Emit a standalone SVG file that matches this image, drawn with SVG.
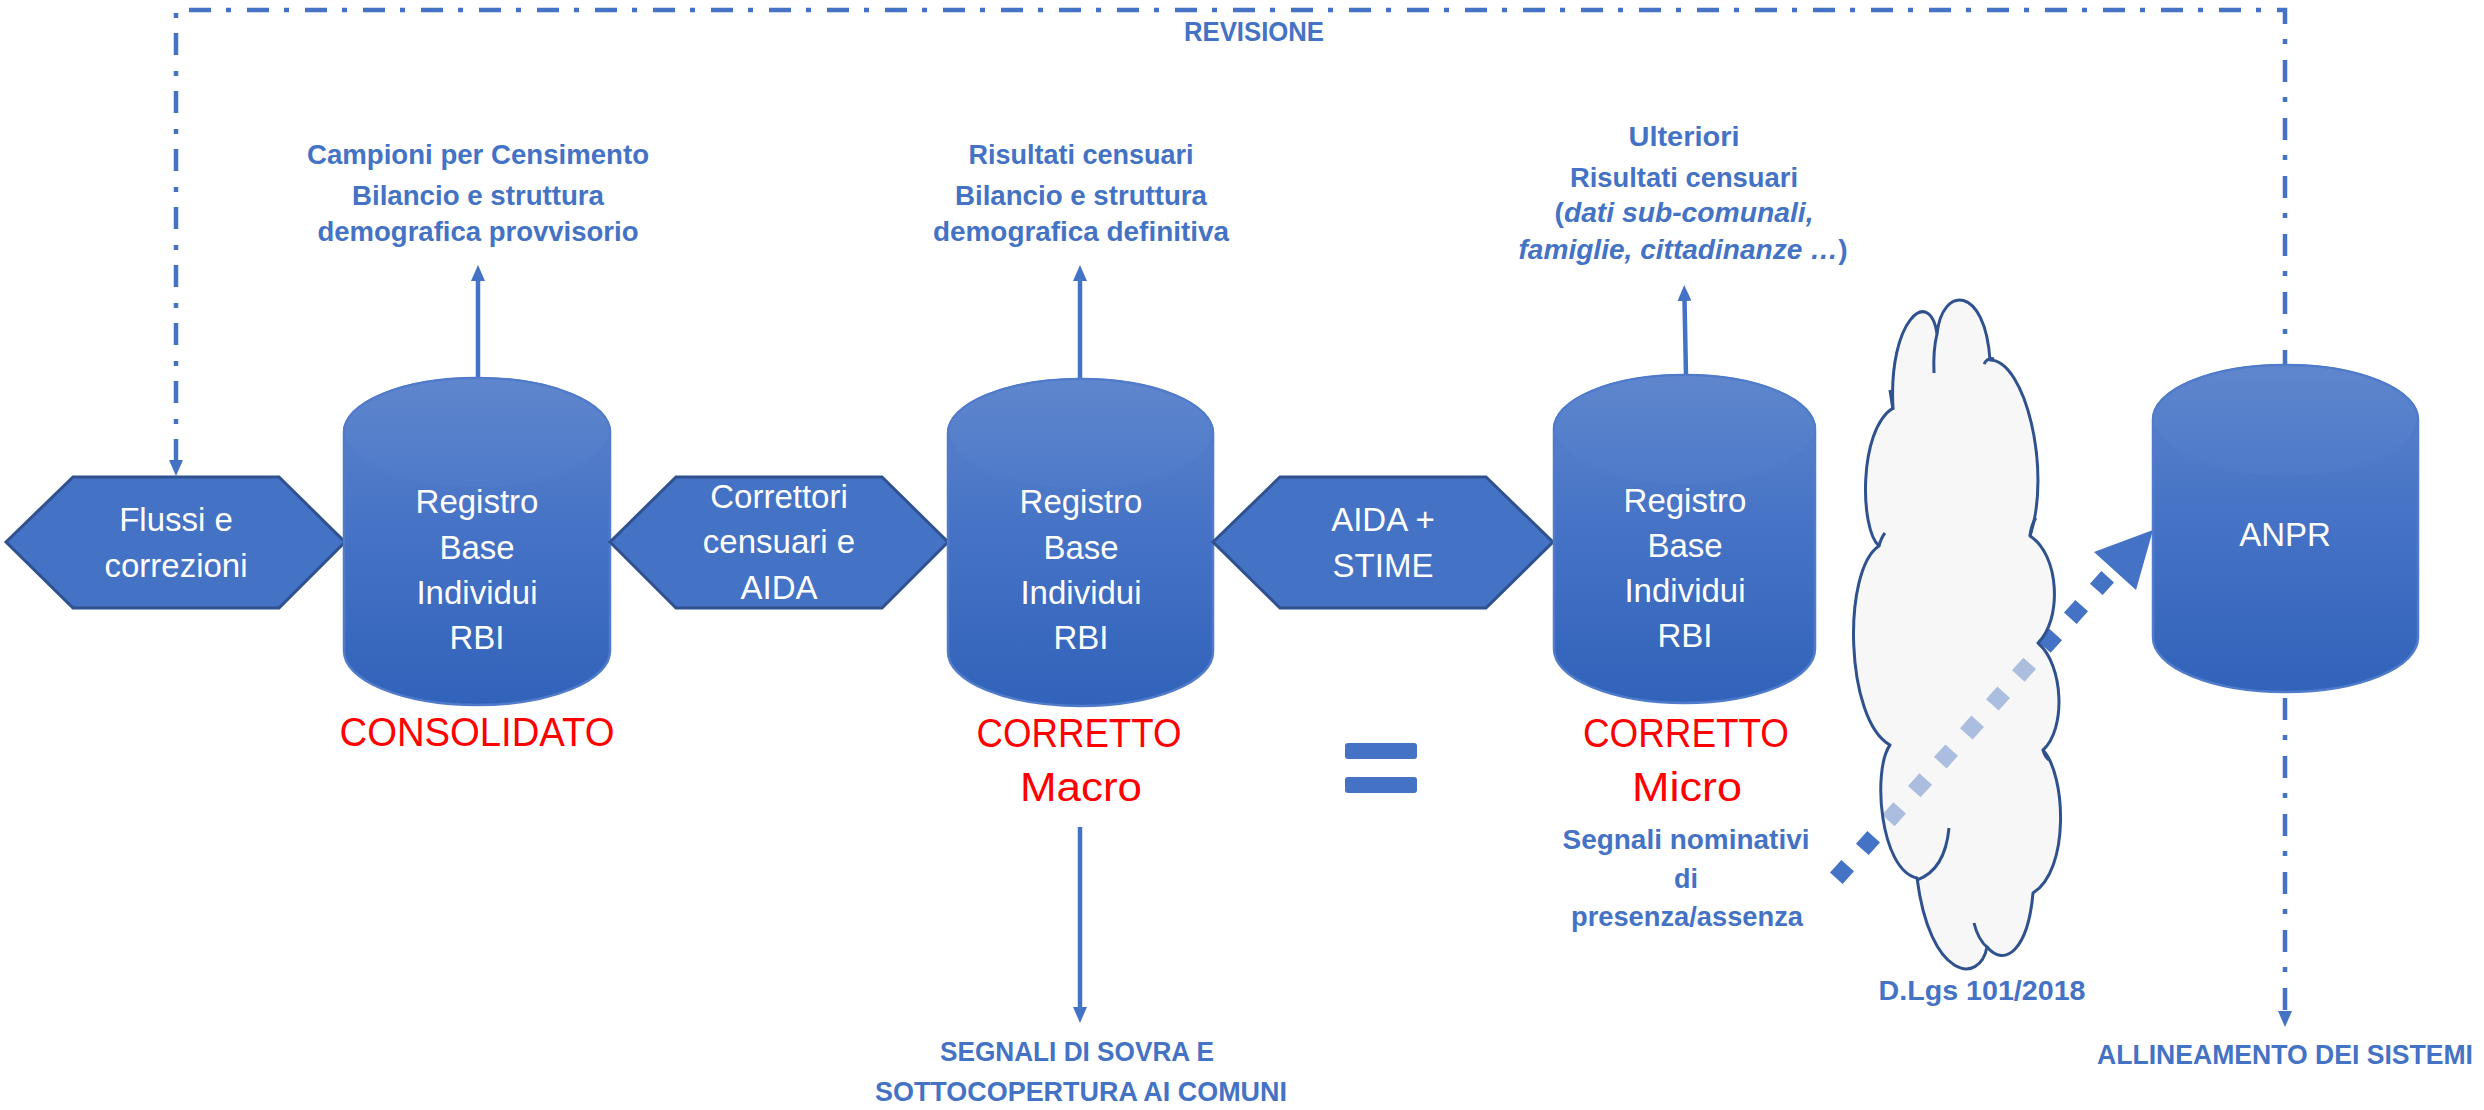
<svg xmlns="http://www.w3.org/2000/svg" width="2484" height="1110" viewBox="0 0 2484 1110">
<style>
.conn{fill:none;stroke:#4472C4;stroke-width:4.5}
.dd{stroke-dasharray:22 15 5 16}
.hex{fill:#4472C4;stroke:#2F528F;stroke-width:3}
.body{fill:url(#gBody);stroke:#4F7BCA;stroke-width:2.5}
.top{fill:url(#gTop);stroke:#4F7BCA;stroke-width:2}
.wt{font-family:"Liberation Sans",Arial,sans-serif;font-size:33px;fill:#FFFFFF;text-anchor:middle}
.bl{font-family:"Liberation Sans",Arial,sans-serif;font-size:27px;font-weight:bold;fill:#4472C4;text-anchor:middle}
.rd{font-family:"Liberation Sans",Arial,sans-serif;font-size:40px;fill:#FF0000;text-anchor:middle}
.it{font-style:italic}
</style>
<defs>
<linearGradient id="gBody" x1="0" y1="0" x2="0" y2="1">
<stop offset="0" stop-color="#5E85CC"/>
<stop offset="0.45" stop-color="#4673C6"/>
<stop offset="1" stop-color="#3163BA"/>
</linearGradient>
<linearGradient id="gTop" x1="0" y1="0" x2="0" y2="1">
<stop offset="0" stop-color="#5F86CD"/>
<stop offset="1" stop-color="#4E7AC9"/>
</linearGradient>
<marker id="ah" viewBox="0 0 16 14" markerWidth="16" markerHeight="14" refX="1" refY="7" orient="auto-start-reverse" markerUnits="userSpaceOnUse">
<path d="M0 0 L16 7 L0 14 Z" fill="#4472C4"/>
</marker>
</defs>

<g id="connectors">
<path class="conn dd" d="M176 461 V10 H2285 V1012" marker-start="url(#ah)" marker-end="url(#ah)"/>
<path class="conn" d="M478 378 V280" marker-end="url(#ah)"/>
<path class="conn" d="M1080 379 V280" marker-end="url(#ah)"/>
<path class="conn" d="M1686 376 L1684.5 300" marker-end="url(#ah)"/>
<path class="conn" d="M1080 827 V1008" marker-end="url(#ah)"/>
<path d="M1836.3 878.3 L2107.7 576.7" fill="none" stroke="#4472C4" stroke-width="17" stroke-dasharray="17 21.87"/>
<polygon points="2094,552 2153,530 2136,590" fill="#4472C4"/>
</g>

<g id="hex-flussi">
<polygon class="hex" points="6,542 73,477 279,477 345,542 279,608 73,608"/>
<text class="wt" x="176" y="531">Flussi e</text>
<text class="wt" x="176" y="577">correzioni</text>
</g>

<g id="rbi-consolidato">
<path class="body" d="M344 432 V651 A133 54 0 0 0 610 651 V432 A133 54 0 0 0 344 432 Z"/>
<ellipse class="top" cx="477" cy="432" rx="133" ry="54"/>
<text class="wt" x="477" y="513">Registro</text>
<text class="wt" x="477" y="559">Base</text>
<text class="wt" x="477" y="604">Individui</text>
<text class="wt" x="477" y="649">RBI</text>
</g>

<g id="hex-correttori">
<polygon class="hex" points="610,542 676,477 882,477 948,542 882,608 676,608"/>
<text class="wt" x="779" y="508">Correttori</text>
<text class="wt" x="779" y="553">censuari e</text>
<text class="wt" x="779" y="599">AIDA</text>
</g>

<g id="rbi-macro">
<path class="body" d="M948 433 V652 A132.5 54 0 0 0 1213 652 V433 A132.5 54 0 0 0 948 433 Z"/>
<ellipse class="top" cx="1080.5" cy="433" rx="132.5" ry="54"/>
<text class="wt" x="1081" y="513">Registro</text>
<text class="wt" x="1081" y="559">Base</text>
<text class="wt" x="1081" y="604">Individui</text>
<text class="wt" x="1081" y="649">RBI</text>
</g>

<g id="hex-aida">
<polygon class="hex" points="1213,542 1280,477 1486,477 1553,542 1486,608 1280,608"/>
<text class="wt" x="1383" y="531">AIDA +</text>
<text class="wt" x="1383" y="577">STIME</text>
</g>

<g id="rbi-micro">
<path class="body" d="M1554 429 V649 A130.5 54 0 0 0 1815 649 V429 A130.5 54 0 0 0 1554 429 Z"/>
<ellipse class="top" cx="1684.5" cy="429" rx="130.5" ry="54"/>
<text class="wt" x="1685" y="512">Registro</text>
<text class="wt" x="1685" y="557">Base</text>
<text class="wt" x="1685" y="602">Individui</text>
<text class="wt" x="1685" y="647">RBI</text>
</g>

<g id="anpr">
<path class="body" d="M2153 419.5 V637.5 A132.5 54.5 0 0 0 2418 637.5 V419.5 A132.5 54.5 0 0 0 2153 419.5 Z"/>
<ellipse class="top" cx="2285.5" cy="419.5" rx="132.5" ry="54.5"/>
<text class="wt" x="2285" y="546">ANPR</text>
</g>

<g id="cloud-dlgs">
<path d="M1893 408 C1888 320 1930 285 1937 334 C1942 285 1985 285 1990 360 C2025 360 2052 470 2030 536 C2060 555 2062 620 2038 643 C2064 665 2066 730 2043 750 C2066 775 2070 870 2033 893 C2028 950 2005 968 1987 947 C1980 985 1930 980 1917 878 C1880 870 1872 770 1890 745 C1845 720 1842 570 1879 546 C1860 530 1858 430 1893 408 Z" fill="#F2F2F2" fill-opacity="0.6" stroke="#2F528F" stroke-width="3" stroke-linejoin="round"/>
<g fill="none" stroke="#2F528F" stroke-width="3">
<path d="M1934 373 Q1933 350 1937 334"/>
<path d="M1890 390 L1893 410"/>
<path d="M1984 364 Q1988 357 1994 359"/>
<path d="M2030 536 Q2031 525 2036 518"/>
<path d="M1949 828 Q1945 870 1917 880"/>
<path d="M1974 923 Q1978 940 1988 948"/>
<path d="M1879 546 Q1881 538 1885 533"/>
<path d="M2043 750 Q2045 757 2049 760"/>
</g>
</g>

<g id="equals" fill="#4472C4">
<rect x="1345" y="743" width="72" height="16" rx="3"/>
<rect x="1345" y="777" width="72" height="16" rx="3"/>
</g>

<g id="labels">
<text class="bl" x="1254" y="41" textLength="140" lengthAdjust="spacingAndGlyphs">REVISIONE</text>
<text class="bl" x="478" y="164" textLength="342" lengthAdjust="spacingAndGlyphs">Campioni per Censimento</text>
<text class="bl" x="478" y="205" textLength="252" lengthAdjust="spacingAndGlyphs">Bilancio e struttura</text>
<text class="bl" x="478" y="241" textLength="321" lengthAdjust="spacingAndGlyphs">demografica provvisorio</text>
<text class="bl" x="1081" y="164" textLength="225" lengthAdjust="spacingAndGlyphs">Risultati censuari</text>
<text class="bl" x="1081" y="205" textLength="252" lengthAdjust="spacingAndGlyphs">Bilancio e struttura</text>
<text class="bl" x="1081" y="241" textLength="296" lengthAdjust="spacingAndGlyphs">demografica definitiva</text>
<text class="bl" x="1684" y="146" textLength="111" lengthAdjust="spacingAndGlyphs">Ulteriori</text>
<text class="bl" x="1684" y="187" textLength="228" lengthAdjust="spacingAndGlyphs">Risultati censuari</text>
<text class="bl" x="1684" y="222" textLength="259" lengthAdjust="spacingAndGlyphs">(<tspan class="it">dati sub-comunali,</tspan></text>
<text class="bl" x="1683" y="259" textLength="329" lengthAdjust="spacingAndGlyphs"><tspan class="it">famiglie, cittadinanze …</tspan>)</text>
<text class="bl" x="1686" y="849" textLength="247" lengthAdjust="spacingAndGlyphs">Segnali nominativi</text>
<text class="bl" x="1686" y="888">di</text>
<text class="bl" x="1687" y="926" textLength="232" lengthAdjust="spacingAndGlyphs">presenza/assenza</text>
<text class="bl" x="1982" y="1000" textLength="207" lengthAdjust="spacingAndGlyphs">D.Lgs 101/2018</text>
<text class="bl" x="1077" y="1061" textLength="274" lengthAdjust="spacingAndGlyphs">SEGNALI DI SOVRA E</text>
<text class="bl" x="1081" y="1101" textLength="412" lengthAdjust="spacingAndGlyphs">SOTTOCOPERTURA AI COMUNI</text>
<text class="bl" x="2285" y="1064" textLength="376" lengthAdjust="spacingAndGlyphs">ALLINEAMENTO DEI SISTEMI</text>
<text class="rd" x="477" y="746" textLength="275" lengthAdjust="spacingAndGlyphs">CONSOLIDATO</text>
<text class="rd" x="1079" y="747" textLength="205" lengthAdjust="spacingAndGlyphs">CORRETTO</text>
<text class="rd" x="1081" y="801" textLength="122" lengthAdjust="spacingAndGlyphs">Macro</text>
<text class="rd" x="1686" y="747" textLength="206" lengthAdjust="spacingAndGlyphs">CORRETTO</text>
<text class="rd" x="1687" y="801" textLength="110" lengthAdjust="spacingAndGlyphs">Micro</text>
</g>
</svg>
